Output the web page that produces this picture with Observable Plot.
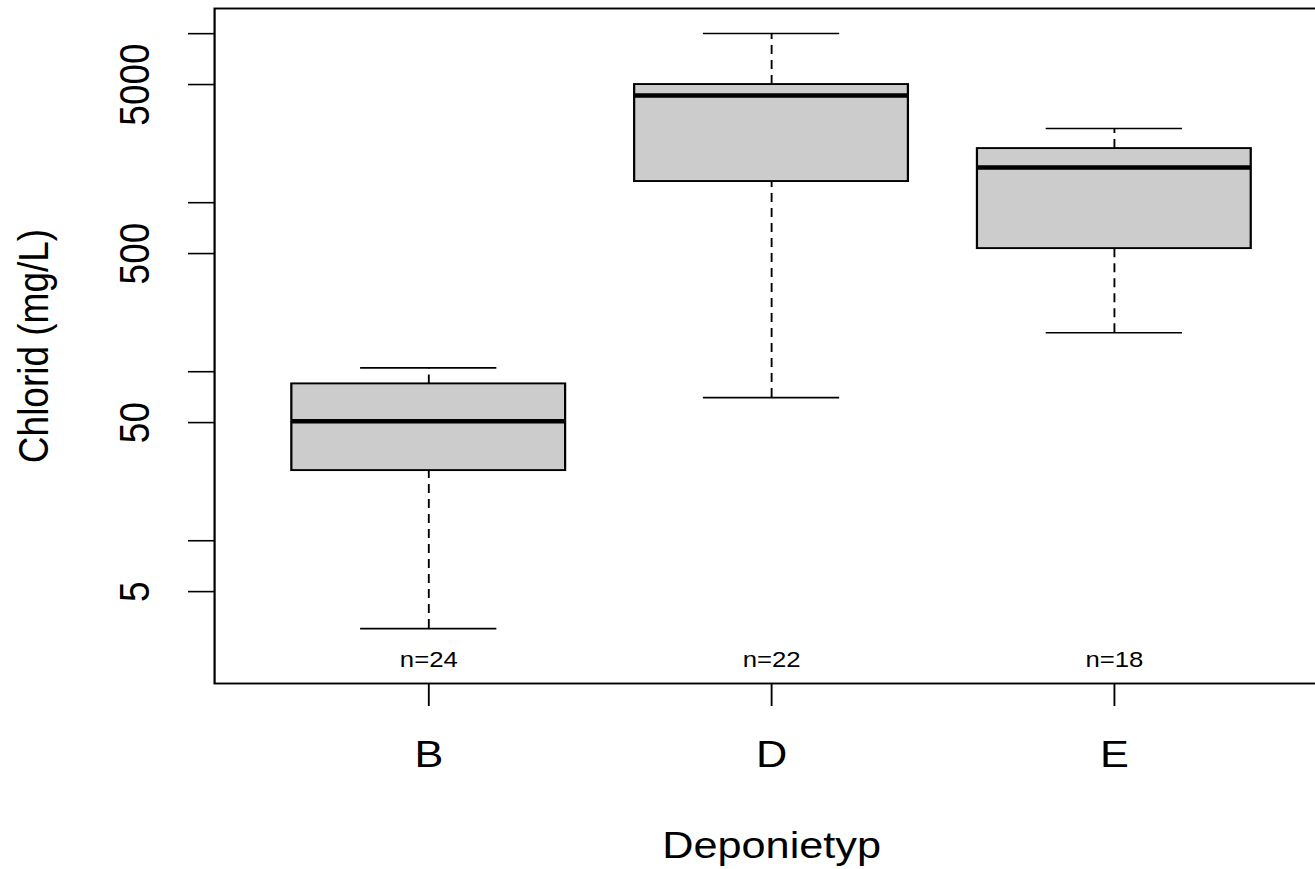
<!DOCTYPE html>
<html>
<head>
<meta charset="utf-8">
<script src="https://cdn.jsdelivr.net/npm/d3@7"></script>
<script src="https://cdn.jsdelivr.net/npm/@observablehq/plot@0.6"></script>
<style>
  html, body { margin: 0; padding: 0; background: white; overflow: hidden; }
</style>
</head>
<body>
<div id="chart"></div>
<script>
// ---- data ----
const categories   = ["B", "D", "E"];
const whiskerLow   = [3.02, 70.3, 170];
const quartile1    = [26.0, 1334, 535];
const medians      = [50.9, 4305, 1614];
const quartile3    = [84.7, 5000, 2090];
const whiskerHigh  = [105.4, 10015, 2745];
const counts       = [24, 22, 18];
const yTicks       = [5, 10, 50, 100, 500, 1000, 5000, 10000];
const yTickLabels  = [5, 50, 500, 5000];
const yTitle = "Chlorid (mg/L)";
const xTitle = "Deponietyp";

// ---- layout ----
const S = 1.17;              // horizontal stretch factor of the reference raster
const W = 1315, H = 869;
const PW = W / S;
const mLeft = 214 / S, mRight = -13 / S, mTop = 8, mBottom = 186;
const step = (PW - mLeft - mRight) / 3.24;
const bw = step * 0.8;

const boxes = categories.map((c, i) => ({
  cat: c, lo: whiskerLow[i], q1: quartile1[i], med: medians[i],
  q3: quartile3[i], hi: whiskerHigh[i], n: counts[i]
}));

const fontFamily = "'Liberation Sans', Arial, sans-serif";

const chart = Plot.plot({
  width: PW, height: H,
  marginLeft: mLeft, marginRight: mRight, marginTop: mTop, marginBottom: mBottom,
  style: { fontFamily, fontSize: "37px", background: "white", color: "black" },
  x: { type: "band", domain: categories, paddingInner: 0.2, paddingOuter: 0.22, label: null },
  y: { type: "log", domain: [1.43, 14090], label: null },
  marks: [
    Plot.axisY({ ticks: yTicks, tickSize: 26 / S, tickFormat: () => "", label: null, strokeWidth: 1.6 }),
    Plot.axisX({ tickSize: 23, tickFormat: () => "", label: null, strokeWidth: 1.6 }),
    // whiskers (dashed)
    Plot.ruleX(boxes, { x: "cat", y1: "lo", y2: "q1", stroke: "black", strokeWidth: 1.6, strokeDasharray: "9,6" }),
    Plot.ruleX(boxes, { x: "cat", y1: "q3", y2: "hi", stroke: "black", strokeWidth: 1.6, strokeDasharray: "9,6" }),
    // whisker caps
    Plot.tickY(boxes, { x: "cat", y: "lo", stroke: "black", strokeWidth: 1.6, inset: bw / 4 }),
    Plot.tickY(boxes, { x: "cat", y: "hi", stroke: "black", strokeWidth: 1.6, inset: bw / 4 }),
    // boxes
    Plot.barY(boxes, { x: "cat", y1: "q1", y2: "q3", fill: "#cccccc", stroke: "black", strokeWidth: 1.9 }),
    // medians
    Plot.tickY(boxes, { x: "cat", y: "med", stroke: "black", strokeWidth: 4.5 }),
    // n labels
    Plot.text(boxes, { x: "cat", text: d => "n=" + d.n, frameAnchor: "bottom", dy: -17, fontSize: 22 }),
    // y tick labels
    Plot.text(yTickLabels, { y: d => d, text: d => String(d), frameAnchor: "left", textAnchor: "middle", dx: -79 / S, rotate: -90, fontSize: 37 }),
    // x tick labels
    Plot.text(categories, { x: d => d, text: d => d, frameAnchor: "bottom", dy: 83, fontSize: 37 }),
    // axis titles
    Plot.text([yTitle], { frameAnchor: "left", textAnchor: "middle", dx: -180 / S, rotate: -90, fontSize: 37 }),
    Plot.text([xTitle], { frameAnchor: "bottom", dy: 174, fontSize: 37 }),
    Plot.frame({ stroke: "black", strokeWidth: 1.9 })
  ]
});

chart.setAttribute("width", W);
chart.setAttribute("height", H);
chart.setAttribute("preserveAspectRatio", "none");
chart.style.width = W + "px";
chart.style.height = H + "px";
chart.style.maxWidth = "none";
document.getElementById("chart").appendChild(chart);
</script>
</body>
</html>
